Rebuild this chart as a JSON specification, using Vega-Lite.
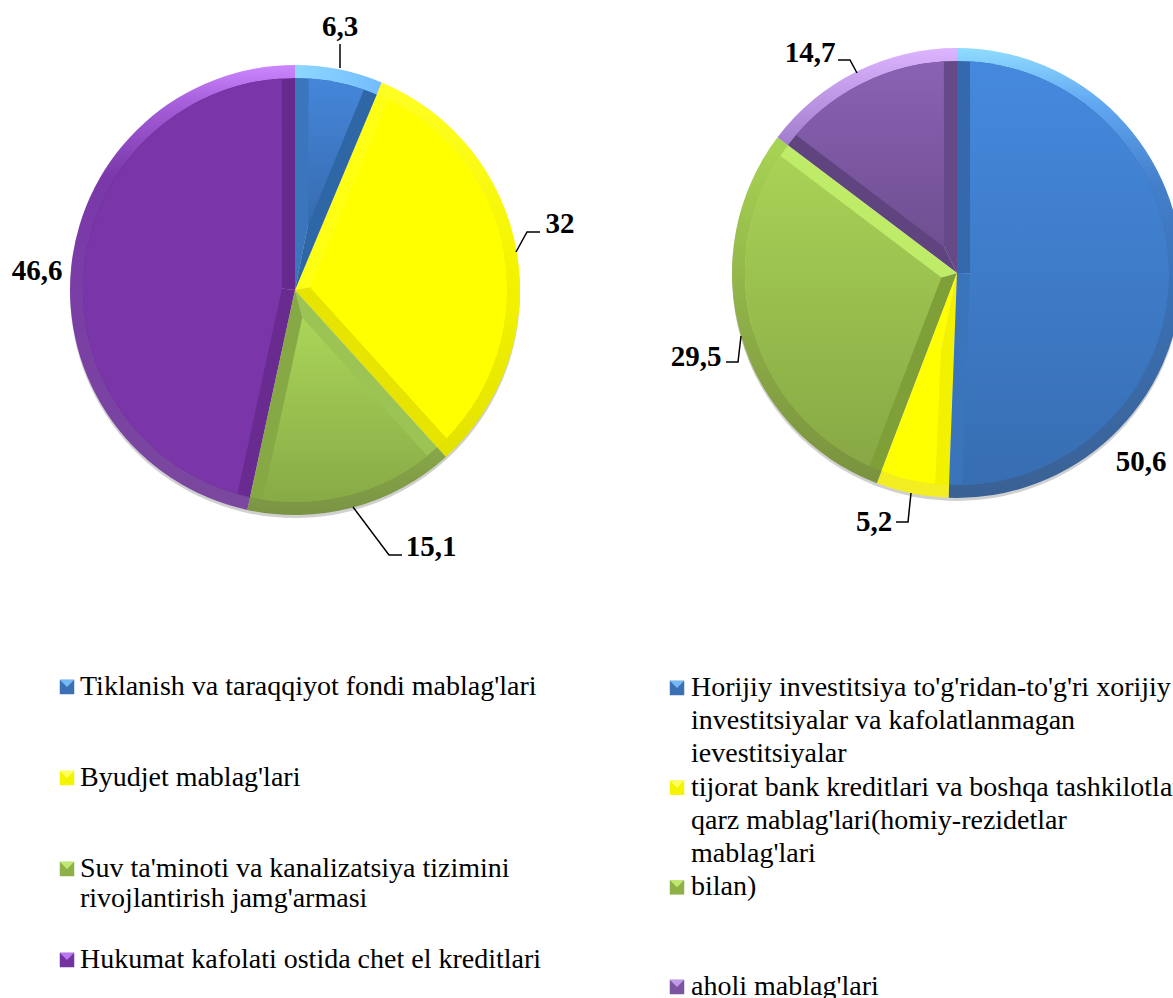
{
"$schema":"https://vega.github.io/schema/vega-lite/v6.json",
"width":1173,"height":998,"padding":0,"autosize":{"type":"none"},"background":"white",
"config":{"view":{"stroke":null},"style":{"arc":{"stroke":null}},"scale":{"pointPadding":0}},
"datasets":{
"slices":[
{"chart":"chap","series":"tiklanish","label":"6,3","value":6.3},
{"chart":"chap","series":"byudjet","label":"32","value":32},
{"chart":"chap","series":"suv","label":"15,1","value":15.1},
{"chart":"chap","series":"hukumat","label":"46,6","value":46.6},
{"chart":"ong","series":"horijiy","label":"50,6","value":50.6},
{"chart":"ong","series":"tijorat","label":"5,2","value":5.2},
{"chart":"ong","series":"bilan","label":"29,5","value":29.5},
{"chart":"ong","series":"aholi","label":"14,7","value":14.7}
],
"legend":[
{"chart":"chap","series":"tiklanish","line":0,"text":"Tiklanish va taraqqiyot fondi mablag'lari"},
{"chart":"chap","series":"byudjet","line":3,"text":"Byudjet mablag'lari"},
{"chart":"chap","series":"suv","line":6,"text":"Suv ta'minoti va kanalizatsiya tizimini"},
{"chart":"chap","series":"suv","line":7,"text":"rivojlantirish jamg'armasi"},
{"chart":"chap","series":"hukumat","line":9,"text":"Hukumat kafolati ostida chet el kreditlari"},
{"chart":"ong","series":"horijiy","line":0,"text":"Horijiy investitsiya to'g'ridan-to'g'ri xorijiy"},
{"chart":"ong","series":"horijiy","line":1,"text":"investitsiyalar va kafolatlanmagan"},
{"chart":"ong","series":"horijiy","line":2,"text":"ievestitsiyalar"},
{"chart":"ong","series":"tijorat","line":3,"text":"tijorat bank kreditlari va boshqa tashkilotlar"},
{"chart":"ong","series":"tijorat","line":4,"text":"qarz mablag'lari(homiy-rezidetlar"},
{"chart":"ong","series":"tijorat","line":5,"text":"mablag'lari"},
{"chart":"ong","series":"bilan","line":6,"text":"bilan)"},
{"chart":"ong","series":"aholi","line":9,"text":"aholi mablag'lari"}
],
"leaders":[
{"leader":"6,3","seq":0,"u":340,"v":68},{"leader":"6,3","seq":1,"u":340,"v":44},
{"leader":"32","seq":0,"u":516,"v":252},{"leader":"32","seq":1,"u":527,"v":232},{"leader":"32","seq":2,"u":540,"v":232},
{"leader":"15,1","seq":0,"u":353,"v":507},{"leader":"15,1","seq":1,"u":389,"v":555},{"leader":"15,1","seq":2,"u":402,"v":555},
{"leader":"14,7","seq":0,"u":838,"v":60},{"leader":"14,7","seq":1,"u":850,"v":60},{"leader":"14,7","seq":2,"u":857,"v":73},
{"leader":"29,5","seq":0,"u":726,"v":362},{"leader":"29,5","seq":1,"u":738,"v":362},{"leader":"29,5","seq":2,"u":741,"v":336},
{"leader":"5,2","seq":0,"u":896,"v":522},{"leader":"5,2","seq":1,"u":908,"v":522},{"leader":"5,2","seq":2,"u":911,"v":493}
]
},
"resolve":{"scale":{"x":"independent","y":"independent","theta":"independent","color":"independent"}},
"layer":[
{
"data":{"name":"slices"},
"transform":[{"stack":"value","groupby":["chart"],"as":["start","end"]}],
"mark":{"type":"arc","radius":225,"radius2":0,"fill":"#777777","opacity":0.35},
"encoding":{
"x":{"field":"chart","type":"nominal","axis":null,"scale":{"type":"point","padding":0,"domain":["chap","ong"],"range":[295,957]}},
"y":{"field":"chart","type":"nominal","axis":null,"scale":{"type":"point","padding":0,"domain":["chap","ong"],"range":[293,276]}},
"theta":{"field":"start","type":"quantitative","stack":null,"scale":{"domain":[0,100]}},
"theta2":{"field":"end"}
}
},
{
"data":{"name":"slices"},
"transform":[
{"stack":"value","groupby":["chart"],"as":["start","end"]},
{"calculate":"(datum.start+datum.end)/2","as":"mid"},
{"calculate":"13/sin(PI*datum.value/100)","as":"apex"},
{"calculate":"212","as":"rim"}
],
"encoding":{
"x":{"field":"chart","type":"nominal","axis":null,"scale":{"type":"point","padding":0,"domain":["chap","ong"],"range":[295,957]}},
"y":{"field":"chart","type":"nominal","axis":null,"scale":{"type":"point","padding":0,"domain":["chap","ong"],"range":[290,273]}},
"theta":{"field":"start","type":"quantitative","stack":null,"scale":{"domain":[0,100]}},
"theta2":{"field":"end"}
},
"resolve":{"scale":{"color":"independent","theta":"independent"}},
"layer":[
{"transform":[{"filter":"datum.series=='tiklanish'"}],"mark":{"type":"arc","radius":225,"radius2":211,"fill":{"gradient":"linear","x1":0,"y1":0,"x2":1,"y2":0,"stops":[{"offset":0,"color":"#8cd8ff"},{"offset":1,"color":"#74bcff"}]}}},
{"transform":[{"filter":"datum.series=='byudjet'"}],"mark":{"type":"arc","radius":225,"radius2":211,"fill":{"gradient":"linear","x1":0,"y1":0,"x2":0,"y2":1,"stops":[{"offset":0,"color":"#ffff24"},{"offset":0.5,"color":"#f4f400"},{"offset":1,"color":"#e2e200"}]}}},
{"transform":[{"filter":"datum.series=='suv'"}],"mark":{"type":"arc","radius":225,"radius2":211,"fill":{"gradient":"linear","x1":0,"y1":0,"x2":0,"y2":1,"stops":[{"offset":0,"color":"#88a848"},{"offset":1,"color":"#7a9444"}]}}},
{"transform":[{"filter":"datum.series=='hukumat'"}],"mark":{"type":"arc","radius":225,"radius2":211,"fill":{"gradient":"linear","x1":0,"y1":0,"x2":0,"y2":1,"stops":[{"offset":0,"color":"#cc88ff"},{"offset":0.08,"color":"#a860dc"},{"offset":0.25,"color":"#7a38aa"},{"offset":1,"color":"#7a489e"}]}}},
{"transform":[{"filter":"datum.series=='horijiy'"}],"mark":{"type":"arc","radius":225,"radius2":211,"fill":{"gradient":"linear","x1":0,"y1":0,"x2":0,"y2":1,"stops":[{"offset":0,"color":"#8fdcff"},{"offset":0.12,"color":"#62a8f2"},{"offset":0.3,"color":"#447fcb"},{"offset":0.55,"color":"#3a70b4"},{"offset":1,"color":"#3a6194"}]}}},
{"transform":[{"filter":"datum.series=='tijorat'"}],"mark":{"type":"arc","radius":225,"radius2":211,"fill":"#f2ee22"}},
{"transform":[{"filter":"datum.series=='bilan'"}],"mark":{"type":"arc","radius":225,"radius2":211,"fill":{"gradient":"linear","x1":0,"y1":0,"x2":0,"y2":1,"stops":[{"offset":0,"color":"#a8d454"},{"offset":0.5,"color":"#8fb048"},{"offset":1,"color":"#79923f"}]}}},
{"transform":[{"filter":"datum.series=='aholi'"}],"mark":{"type":"arc","radius":225,"radius2":211,"fill":{"gradient":"linear","x1":0,"y1":0,"x2":0,"y2":1,"stops":[{"offset":0,"color":"#dcb4ff"},{"offset":1,"color":"#a07ccb"}]}}},
{
"mark":{"type":"arc","radius":212,"radius2":0},
"encoding":{
"theta2":{"field":"mid"},
"color":{"field":"series","type":"nominal","legend":null,"scale":{
"domain":["tiklanish","byudjet","suv","hukumat","horijiy","tijorat","bilan","aholi"],
"range":["#3a75bd","#ffff14","#9cc455","#6a2b90","#3568ac","#f2f200","#7f9f38","#604480"]}}
}
},
{
"mark":{"type":"arc","radius":212,"radius2":0},
"encoding":{
"theta":{"field":"mid","type":"quantitative","stack":null,"scale":{"domain":[0,100]}},
"color":{"field":"series","type":"nominal","legend":null,"scale":{
"domain":["tiklanish","byudjet","suv","hukumat","horijiy","tijorat","bilan","aholi"],
"range":["#2f66a5","#e6e400","#86a945","#662a8e","#3a74bb","#ffff00","#bfec68","#664a88"]}}
}
},
{
"mark":{"type":"arc","padAngle":0.1228},
"encoding":{
"radius":{"field":"rim","type":"quantitative","scale":{"domain":[0,212],"range":[0,212]}},
"radius2":{"field":"apex"},
"color":{"field":"series","type":"nominal","legend":null,"scale":{
"domain":["tiklanish","byudjet","suv","hukumat","horijiy","tijorat","bilan","aholi"],
"range":["#4586da","#ffff00","#aad558","#7a35a8","#4589de","#ffff00","#a9d256","#8a62b4"]}}
}
},
{
"transform":[{"filter":"indexof(['horijiy','bilan','aholi','suv','tiklanish'],datum.series)>=0"}],
"mark":{"type":"arc","padAngle":0.1228,"fill":{"gradient":"linear","x1":0,"y1":0,"x2":0,"y2":1,"stops":[{"offset":0,"color":"rgba(0,0,0,0)"},{"offset":1,"color":"rgba(0,0,0,0.2)"}]}},
"encoding":{
"radius":{"field":"rim","type":"quantitative","scale":{"domain":[0,212],"range":[0,212]}},
"radius2":{"field":"apex"}
}
}
]
},
{
"data":{"name":"leaders"},
"mark":{"type":"line","color":"black","strokeWidth":1.5},
"encoding":{
"x":{"field":"u","type":"quantitative","axis":null,"scale":{"domain":[0,1173],"range":[0,1173]}},
"y":{"field":"v","type":"quantitative","axis":null,"scale":{"domain":[0,998],"range":[0,998]}},
"detail":{"field":"leader"},
"order":{"field":"seq"}
}
},
{
"data":{"name":"slices"},
"encoding":{
"x":{"field":"chart","type":"nominal","axis":null,"scale":{"type":"point","padding":0,"domain":["chap","ong"],"range":[295,957]}},
"y":{"field":"chart","type":"nominal","axis":null,"scale":{"type":"point","padding":0,"domain":["chap","ong"],"range":[290,273]}},
"text":{"field":"label"}
},
"layer":[
{"transform":[{"filter":"datum.label=='6,3'"}],"mark":{"type":"text","dx":45,"dy":-263,"font":"Liberation Serif","fontSize":29,"fontWeight":"bold","color":"black"}},
{"transform":[{"filter":"datum.label=='32'"}],"mark":{"type":"text","dx":265,"dy":-66,"font":"Liberation Serif","fontSize":29,"fontWeight":"bold","color":"black"}},
{"transform":[{"filter":"datum.label=='15,1'"}],"mark":{"type":"text","dx":136,"dy":257,"font":"Liberation Serif","fontSize":29,"fontWeight":"bold","color":"black"}},
{"transform":[{"filter":"datum.label=='46,6'"}],"mark":{"type":"text","dx":-258,"dy":-19,"font":"Liberation Serif","fontSize":29,"fontWeight":"bold","color":"black"}},
{"transform":[{"filter":"datum.label=='50,6'"}],"mark":{"type":"text","dx":184,"dy":189,"font":"Liberation Serif","fontSize":29,"fontWeight":"bold","color":"black"}},
{"transform":[{"filter":"datum.label=='5,2'"}],"mark":{"type":"text","dx":-83,"dy":249,"font":"Liberation Serif","fontSize":29,"fontWeight":"bold","color":"black"}},
{"transform":[{"filter":"datum.label=='29,5'"}],"mark":{"type":"text","dx":-261,"dy":84,"font":"Liberation Serif","fontSize":29,"fontWeight":"bold","color":"black"}},
{"transform":[{"filter":"datum.label=='14,7'"}],"mark":{"type":"text","dx":-147,"dy":-220,"font":"Liberation Serif","fontSize":29,"fontWeight":"bold","color":"black"}}
]
},
{
"data":{"name":"legend"},
"transform":[{"filter":"datum.chart=='chap'"}],
"encoding":{
"y":{"field":"line","type":"quantitative","axis":null,"scale":{"domain":[0,9],"range":[687,960]}}
},
"resolve":{"scale":{"x":"independent","color":"independent"}},
"layer":[
{"mark":{"type":"text","align":"left","baseline":"middle","font":"Liberation Serif","fontSize":28,"color":"black"},
"encoding":{"x":{"field":"chart","type":"nominal","axis":null,"scale":{"type":"point","padding":0,"domain":["chap","ong"],"range":[80,691]}},"text":{"field":"text"}}},
{"transform":[{"filter":"datum.line%3==0"}],"mark":{"type":"point","shape":"square","filled":true,"size":210,"opacity":1},
"encoding":{"x":{"field":"chart","type":"nominal","axis":null,"scale":{"type":"point","padding":0,"domain":["chap","ong"],"range":[67,677]}},
"color":{"field":"series","type":"nominal","legend":null,"scale":{
"domain":["tiklanish","byudjet","suv","hukumat"],
"range":["#3b70b5","#f4f400","#8fb048","#7434a0"]}}}},
{"transform":[{"filter":"datum.line%3==0"}],"mark":{"type":"point","shape":"M-1,-1L1,-1L0,0Z","filled":true,"size":210,"opacity":1},
"encoding":{"x":{"field":"chart","type":"nominal","axis":null,"scale":{"type":"point","padding":0,"domain":["chap","ong"],"range":[67,677]}},
"color":{"field":"series","type":"nominal","legend":null,"scale":{
"domain":["tiklanish","byudjet","suv","hukumat"],
"range":["#74b8f4","#ffff60","#c0e870","#b878f0"]}}}}
]
},
{
"data":{"name":"legend"},
"transform":[{"filter":"datum.chart=='ong'"}],
"encoding":{
"y":{"field":"line","type":"quantitative","axis":null,"scale":{"domain":[0,9],"range":[688,987]}}
},
"resolve":{"scale":{"x":"independent","color":"independent"}},
"layer":[
{"mark":{"type":"text","align":"left","baseline":"middle","font":"Liberation Serif","fontSize":28,"color":"black"},
"encoding":{"x":{"field":"chart","type":"nominal","axis":null,"scale":{"type":"point","padding":0,"domain":["chap","ong"],"range":[80,691]}},"text":{"field":"text"}}},
{"transform":[{"filter":"datum.line%3==0"}],"mark":{"type":"point","shape":"square","filled":true,"size":210,"opacity":1},
"encoding":{"x":{"field":"chart","type":"nominal","axis":null,"scale":{"type":"point","padding":0,"domain":["chap","ong"],"range":[67,677]}},
"color":{"field":"series","type":"nominal","legend":null,"scale":{
"domain":["horijiy","tijorat","bilan","aholi"],
"range":["#3b70b5","#f4f400","#8fb048","#7a55a0"]}}}},
{"transform":[{"filter":"datum.line%3==0"}],"mark":{"type":"point","shape":"M-1,-1L1,-1L0,0Z","filled":true,"size":210,"opacity":1},
"encoding":{"x":{"field":"chart","type":"nominal","axis":null,"scale":{"type":"point","padding":0,"domain":["chap","ong"],"range":[67,677]}},
"color":{"field":"series","type":"nominal","legend":null,"scale":{
"domain":["horijiy","tijorat","bilan","aholi"],
"range":["#74b8f4","#ffff60","#c0e870","#c09ae8"]}}}}
]
}
]
}
